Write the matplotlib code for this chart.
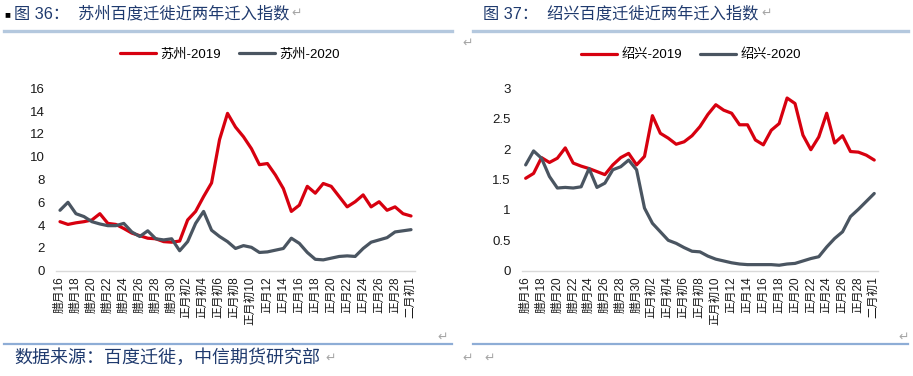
import matplotlib
matplotlib.use("Agg")
import matplotlib.pyplot as plt
from matplotlib.lines import Line2D
import numpy as np

plt.rcParams['font.family'] = ['Liberation Sans', 'Noto Sans CJK SC', 'DejaVu Sans']

# x categories (lunar calendar days), labels shown on every other point
days = (['腊月%d' % d for d in range(16, 31)] +
        ['正月初%d' % d for d in range(1, 11)] +
        ['正月%d' % d for d in range(11, 30)] +
        ['二月初1'])

# 苏州 in-migration index
suzhou_2019 = [4.3, 4.06, 4.2, 4.3, 4.45, 5.0, 4.15, 4.06, 3.7, 3.3,
               3.07, 2.85, 2.8, 2.55, 2.5, 2.6, 4.45, 5.2, 6.5, 7.7,
               11.5, 13.8, 12.6, 11.75, 10.7, 9.3, 9.4, 8.4, 7.2, 5.2,
               5.75, 7.4, 6.8, 7.65, 7.4, 6.5, 5.6, 6.05, 6.65, 5.6,
               6.05, 5.3, 5.6, 5.0, 4.8]
suzhou_2020 = [5.3, 6.0, 5.0, 4.75, 4.3, 4.1, 3.95, 3.95, 4.15, 3.4,
               3.0, 3.5, 2.8, 2.7, 2.8, 1.75, 2.55, 4.15, 5.2, 3.55,
               3.0, 2.55, 1.95, 2.2, 2.05, 1.6, 1.65, 1.8, 1.95, 2.85,
               2.4, 1.6, 1.0, 0.95, 1.1, 1.25, 1.3, 1.25, 1.95, 2.5,
               2.7, 2.9, 3.4, 3.5, 3.6]

# 绍兴 in-migration index
shaoxing_2019 = [1.52, 1.6, 1.86, 1.78, 1.85, 2.02, 1.77, 1.72, 1.68, 1.63,
                 1.58, 1.74, 1.86, 1.93, 1.74, 1.88, 2.55, 2.26, 2.18, 2.08,
                 2.12, 2.22, 2.37, 2.57, 2.73, 2.64, 2.59, 2.40, 2.40, 2.15,
                 2.07, 2.31, 2.42, 2.84, 2.75, 2.23, 1.99, 2.2, 2.59, 2.1,
                 2.22, 1.96, 1.95, 1.9, 1.82]
shaoxing_2020 = [1.74, 1.97, 1.85, 1.55, 1.36, 1.37, 1.36, 1.38, 1.68, 1.37,
                 1.44, 1.66, 1.71, 1.82, 1.66, 1.03, 0.78, 0.64, 0.5, 0.45,
                 0.38, 0.32, 0.31, 0.24, 0.19, 0.16, 0.13, 0.11, 0.1, 0.1,
                 0.1, 0.1, 0.09, 0.11, 0.12, 0.16, 0.2, 0.23, 0.39, 0.53,
                 0.64, 0.89, 1.01, 1.14, 1.27]

RED = '#D7000F'
GRAY = '#4A5561'
NAVY = '#1F3A6E'
MARK = '#A6A6A6'

W, H = 913, 376
fig = plt.figure(figsize=(W / 100, H / 100), dpi=100)


def px(x, y):
    return x / W, 1 - y / H


def panel(rect, city, s19, s20, ylim, yticks, ytlabels, legx):
    ax = fig.add_axes(rect)
    x = np.arange(len(days))
    l1, = ax.plot(x, s19, color=RED, lw=2.3, solid_joinstyle='round',
                  solid_capstyle='round', label=city + '-2019')
    l2, = ax.plot(x, s20, color=GRAY, lw=2.3, solid_joinstyle='round',
                  solid_capstyle='round', label=city + '-2020')
    ax.set_xlim(-0.5, len(days) - 0.5)
    ax.set_ylim(*ylim)
    ax.set_yticks(yticks)
    ax.set_yticklabels(ytlabels, fontsize=9.5, color='#1a1a1a')
    ax.set_xticks(x[::2])
    ax.set_xticklabels(days[::2], rotation=90, fontsize=8.5,
                       color='#1a1a1a', va='top')
    ax.tick_params(axis='both', length=0)
    ax.tick_params(axis='x', pad=4)
    ax.tick_params(axis='y', pad=8)
    for s in ['top', 'right', 'left']:
        ax.spines[s].set_visible(False)
    ax.spines['bottom'].set_color('#D9D9D9')
    ax.spines['bottom'].set_linewidth(1)
    ax.patch.set_alpha(0)
    ax.legend(handles=[l1, l2], ncol=2, loc='center',
              bbox_to_anchor=px(legx, 55), bbox_transform=fig.transFigure,
              frameon=False, fontsize=9.5, handlelength=2.7,
              handletextpad=0.35, columnspacing=1.4)
    return ax


panel([56 / W, 1 - 270.7 / H, 359 / W, 182.4 / H], '苏州',
      suzhou_2019, suzhou_2020, (0, 16), range(0, 17, 2),
      [str(v) for v in range(0, 17, 2)], 230)
panel([521.7 / W, 1 - 270.7 / H, 356.5 / W, 182.4 / H], '绍兴',
      shaoxing_2019, shaoxing_2020, (0, 3), [0, 0.5, 1, 1.5, 2, 2.5, 3],
      ['0', '0.5', '1', '1.5', '2', '2.5', '3'], 691)

# titles
fig.text(*px(4, 14), '■', fontsize=7, color='black', va='center', ha='left')
fig.text(*px(14, 14), '图 36：  苏州百度迁徙近两年迁入指数', fontsize=11.7,
         color=NAVY, va='center', ha='left')
fig.text(*px(291, 13), '↵', fontsize=9, color=MARK, va='center', ha='left',
         family=['DejaVu Sans'])
fig.text(*px(483, 14), '图 37：  绍兴百度迁徙近两年迁入指数', fontsize=11.7,
         color=NAVY, va='center', ha='left')
fig.text(*px(761, 13), '↵', fontsize=9, color=MARK, va='center', ha='left',
         family=['DejaVu Sans'])

# rules under the titles and above the source
fig.add_artist(Line2D([4 / W, 452 / W], [1 - 30.5 / H] * 2, color='#B4C8DE', lw=2.4))
fig.add_artist(Line2D([473 / W, 908 / W], [1 - 30.5 / H] * 2, color='#B4C8DE', lw=2.4))
fig.add_artist(Line2D([4 / W, 452 / W], [1 - 343.5 / H] * 2, color='#8EADD6', lw=1.6))
fig.add_artist(Line2D([473 / W, 908 / W], [1 - 343.5 / H] * 2, color='#8EADD6', lw=1.6))

# paragraph marks
for xx, yy in [(462, 43), (437, 337), (898, 337), (462, 358), (484, 358)]:
    fig.text(*px(xx, yy), '↵', fontsize=9, color=MARK, va='center', ha='left',
             family=['DejaVu Sans'])

fig.text(*px(14, 358), '数据来源：百度迁徙，中信期货研究部', fontsize=13,
         color=NAVY, va='center', ha='left')
fig.text(*px(325, 358), '↵', fontsize=9, color=MARK, va='center', ha='left',
         family=['DejaVu Sans'])

fig.savefig('out.png', dpi=100, facecolor='white')
